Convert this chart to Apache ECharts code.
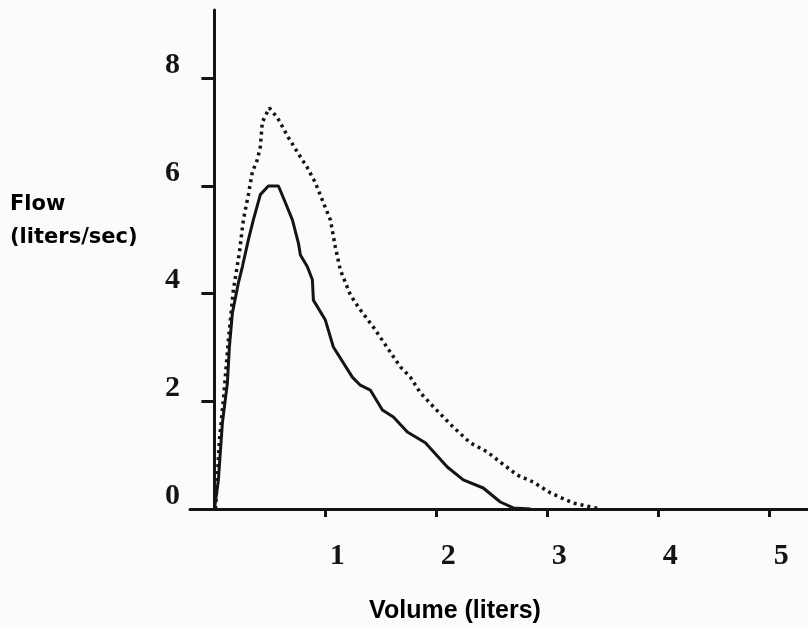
<!DOCTYPE html>
<html><head><meta charset="utf-8">
<script src="https://cdn.jsdelivr.net/npm/echarts@6/dist/echarts.min.js"></script>
<style>html,body{margin:0;padding:0;background:#fbfbfb}#c{width:808px;height:626px}</style>
</head><body><div id="c"></div>
<script>
const xTickLabels = [1, 2, 3, 4, 5];
const yTickLabels = [0, 2, 4, 6, 8];
const xTitle = 'Volume (liters)';
const yTitle = 'Flow\n(liters/sec)';

const solidVol  = [0, 0.036, 0.072, 0.117, 0.135, 0.162, 0.216, 0.252, 0.306, 0.351, 0.414, 0.486, 0.577, 0.640, 0.703, 0.757, 0.775, 0.838, 0.883, 0.892, 1.0, 1.072, 1.243, 1.315, 1.405, 1.514, 1.613, 1.739, 1.901, 2.099, 2.243, 2.423, 2.577, 2.694, 2.85];
const solidFlow = [0, 0.54, 1.60, 2.34, 3.01, 3.64, 4.20, 4.50, 5.00, 5.37, 5.84, 6.00, 6.00, 5.69, 5.37, 4.94, 4.72, 4.50, 4.26, 3.88, 3.51, 3.01, 2.45, 2.30, 2.21, 1.84, 1.71, 1.43, 1.23, 0.78, 0.54, 0.39, 0.13, 0.02, 0];

const dotVol  = [0.01, 0.045, 0.081, 0.126, 0.171, 0.225, 0.261, 0.306, 0.342, 0.387, 0.414, 0.432, 0.495, 0.568, 0.667, 0.775, 0.838, 0.910, 0.982, 1.045, 1.090, 1.135, 1.225, 1.297, 1.432, 1.541, 1.676, 1.766, 1.856, 1.973, 2.153, 2.306, 2.459, 2.577, 2.730, 2.874, 3.027, 3.234, 3.477];
const dotFlow = [0, 1.28, 2.03, 3.14, 4.07, 4.76, 5.37, 5.84, 6.26, 6.49, 6.73, 7.19, 7.45, 7.27, 6.90, 6.54, 6.34, 6.06, 5.69, 5.37, 4.87, 4.44, 3.98, 3.75, 3.38, 3.05, 2.64, 2.45, 2.16, 1.90, 1.52, 1.23, 1.06, 0.87, 0.63, 0.50, 0.30, 0.11, 0];

const zip = (a, b) => a.map((v, i) => [v, b[i]]);
const ink = '#141414';

const chart = echarts.init(document.getElementById('c'));
chart.setOption({
  backgroundColor: '#fbfbfb',
  animation: false,
  grid: { left: 190, right: 0, top: 10, bottom: 117 },
  xAxis: {
    type: 'value', min: -0.22, max: 5.35,
    splitLine: { show: false },
    axisLine: { onZero: false, lineStyle: { color: ink, width: 3 } },
    axisTick: { show: true, customValues: xTickLabels, length: 8, lineStyle: { color: ink, width: 3 } },
    axisLabel: { customValues: xTickLabels, margin: 32, padding: [0, 0, 0, 24],
      fontFamily: 'Liberation Serif', fontWeight: 'bold', fontSize: 30, color: ink }
  },
  yAxis: {
    type: 'value', min: 0, max: 9.27,
    splitLine: { show: false },
    axisLine: { onZero: true, lineStyle: { color: ink, width: 3 } },
    axisTick: { show: true, customValues: yTickLabels, length: 13, lineStyle: { color: ink, width: 3 } },
    axisLabel: { customValues: yTickLabels, margin: 10, verticalAlign: 'bottom',
      fontFamily: 'Liberation Serif', fontWeight: 'bold', fontSize: 30, lineHeight: 26, color: ink }
  },
  graphic: [{
    type: 'text', left: 10, top: 188,
    style: { text: yTitle, fontFamily: 'DejaVu Sans', fontWeight: 'bold', fontSize: 21, lineHeight: 33, fill: '#000' }
  }, {
    type: 'text', x: 455, y: 611,
    style: { text: xTitle, align: 'center', verticalAlign: 'middle', fontFamily: 'Liberation Sans', fontWeight: 'bold', fontSize: 25, fill: '#000' }
  }],
  series: [
    { type: 'line', data: zip(solidVol, solidFlow), showSymbol: false, smooth: false,
      lineStyle: { color: ink, width: 3 } },
    { type: 'line', data: zip(dotVol, dotFlow), showSymbol: false, smooth: false,
      lineStyle: { color: ink, width: 3.5, type: [3, 4], cap: 'butt' } }
  ]
});
</script></body></html>
